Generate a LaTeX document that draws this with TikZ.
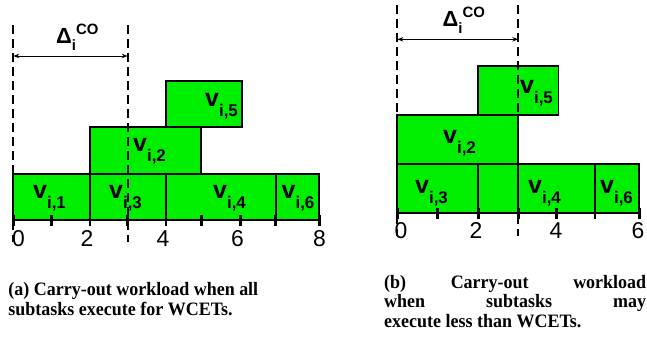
\documentclass[tikz,border=0pt]{standalone}
\usepackage{fontspec}
\setmainfont{Liberation Serif}
\setsansfont{Liberation Sans}
\newfontfamily\capfont[FakeStretch=0.95]{Liberation Serif}
\usetikzlibrary{arrows.meta}
\definecolor{boxgreen}{RGB}{0,238,0}
\newcommand{\vlab}[1]{{\sffamily\bfseries\fontsize{25}{25}\selectfont v\raisebox{-10bp}{\fontsize{17}{17}\selectfont i,#1}}}
\newcommand{\dlab}{{\sffamily\bfseries\fontsize{22}{22}\selectfont \char"0394\raisebox{-7bp}{\fontsize{15}{15}\selectfont i}\raisebox{9bp}{\fontsize{15}{15}\selectfont CO}}}
\begin{document}
\begin{tikzpicture}[x=1bp,y=-1bp,
  task/.style={draw=black,line width=1.8bp,fill=boxgreen},
  guide/.style={draw=black,line width=1.8bp,dash pattern=on 9bp off 5bp},
  tickmark/.style={draw=black,line width=2.6bp},
  lab/.style={anchor=base west,inner sep=0pt},
  num/.style={anchor=base,inner sep=0pt,font=\sffamily\fontsize{23}{23}\selectfont},
  span/.style={draw=black,line width=0.9bp,{Stealth[length=6bp,width=4.5bp]}-{Stealth[length=6bp,width=4.5bp]}},
  captext/.style={anchor=base west,inner sep=0pt,font=\capfont\bfseries\fontsize{19}{19}\selectfont}]
\useasboundingbox (0,0) rectangle (647,341);

% ---------- left panel ----------
\draw[task] (13.3,174) rectangle (90,220);
\draw[task] (90,174) rectangle (166,220);
\draw[task] (166,174) rectangle (275.7,220);
\draw[task] (275.7,174) rectangle (319.3,220);
\draw[task] (90,126.7) rectangle (201.3,174);
\draw[task] (166,80.7) rectangle (242,126.7);
\foreach \x in {13.3,51.7,90,127.7,166,201.3,240.7,275.7,319.3}
  \draw[tickmark] (\x,215) -- (\x,225.5);
\coordinate (la) at (13.3,25);
\coordinate (lb) at (13.3,242);
\coordinate (lc) at (127.7,25);
\coordinate (ld) at (127.7,242);
\draw[guide] (la) -- (lb);
\draw[guide] (lc) -- (ld);
\coordinate (larl) at (13.3,56);
\coordinate (larr) at (127.7,56);
\draw[span] (larl) -- (larr);
\node[lab] (ldelta) at (56,43.3) {\dlab};
\node[lab] (v1) at (33,198.3) {\vlab{1}};
\node[lab] (v3a) at (109,198.3) {\vlab{3}};
\node[lab] (v4a) at (213,198.3) {\vlab{4}};
\node[lab] (v6a) at (281.5,198.3) {\vlab{6}};
\node[lab] (v2a) at (133,151.7) {\vlab{2}};
\node[lab] (v5a) at (205,106.7) {\vlab{5}};
\node[num] (n0a) at (18.5,246.7) {0};
\node[num] (n2a) at (87,246.7) {2};
\node[num] (n4a) at (163,246.7) {4};
\node[num] (n6a) at (237.5,246.7) {6};
\node[num] (n8a) at (319.5,246.7) {8};

% ---------- right panel ----------
\draw[task] (397.3,164.3) rectangle (478.3,213.3);
\draw[task] (478.3,164.3) rectangle (518.3,213.3);
\draw[task] (518.3,164.3) rectangle (595,213.3);
\draw[task] (595,164.3) rectangle (639.3,213.3);
\draw[task] (397.3,115) rectangle (518.3,164.3);
\draw[task] (478.3,65.7) rectangle (558.5,115);
\foreach \x in {397.3,437.3,478.3,518.3,556.7,595,639.3}
  \draw[tickmark] (\x,208) -- (\x,219);
\coordinate (ra) at (397.3,5);
\coordinate (rb) at (397.3,236);
\coordinate (rc) at (518.3,5);
\coordinate (rd) at (518.3,236);
\draw[guide] (ra) -- (rb);
\draw[guide] (rc) -- (rd);
\coordinate (rarl) at (397.3,39.3);
\coordinate (rarr) at (518.3,39.3);
\draw[span] (rarl) -- (rarr);
\node[lab] (rdelta) at (442.5,26.7) {\dlab};
\node[lab] (v3b) at (415,193.3) {\vlab{3}};
\node[lab] (v4b) at (528,193.3) {\vlab{4}};
\node[lab] (v6b) at (600,193.3) {\vlab{6}};
\node[lab] (v2b) at (443,143.3) {\vlab{2}};
\node[lab] (v5b) at (520,93.3) {\vlab{5}};
\node[num] (n0b) at (401,238.3) {0};
\node[num] (n2b) at (476,238.3) {2};
\node[num] (n4b) at (556,238.3) {4};
\node[num] (n6b) at (638,238.3) {6};

% ---------- captions ----------
\node[captext] (ca1) at (8.3,295) {(a) Carry-out workload when all};
\node[captext] (ca2) at (8.3,315) {subtasks execute for WCETs.};
\node[captext] (cb1) at (384,288) {\makebox[262bp][l]{(b)\hfill Carry-out\hfill workload}};
\node[captext] (cb2) at (384,307.5) {\makebox[262bp][l]{when\hfill subtasks\hfill may}};
\node[captext] (cb3) at (384,327) {execute less than WCETs.};
\end{tikzpicture}
\end{document}
